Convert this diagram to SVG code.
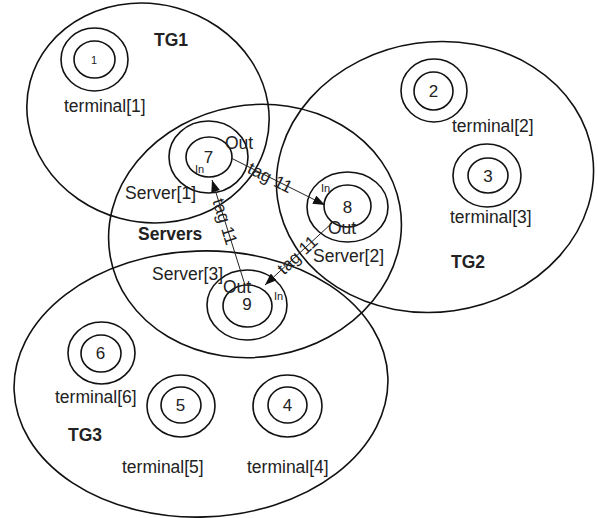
<svg xmlns="http://www.w3.org/2000/svg" width="598" height="518" viewBox="0 0 598 518">
<defs>
<style>
.g{fill:none;stroke:#111;stroke-width:1.6}
.n{fill:none;stroke:#111;stroke-width:1.6}
.t{font-family:"Liberation Sans",Arial,sans-serif;font-size:17.5px;fill:#222}
.b{font-family:"Liberation Sans",Arial,sans-serif;font-size:17.5px;font-weight:bold;fill:#222}
.d{font-family:"Liberation Sans",Arial,sans-serif;font-size:17px;fill:#222;text-anchor:middle}
.s{font-family:"Liberation Sans",Arial,sans-serif;font-size:11px;fill:#222}
.c{fill:none;stroke:#222;stroke-width:1}
</style>
<marker id="ah" markerUnits="userSpaceOnUse" markerWidth="13" markerHeight="9" refX="12" refY="4.5" orient="auto"><path d="M0,0 L12,4.5 L0,9 z" fill="#111"/></marker>
</defs>
<rect width="598" height="518" fill="#fff"/>
<g id="groups">
<g id="TG1"><ellipse class="g" cx="148" cy="113" rx="122" ry="109" transform="rotate(15 148 113)"/><text class="b" x="154" y="46">TG1</text></g>
<g id="TG2"><ellipse class="g" cx="435" cy="177" rx="159" ry="135" transform="rotate(-8 435 177)"/><text class="b" x="451" y="268">TG2</text></g>
<g id="Servers"><ellipse class="g" cx="255" cy="231" rx="147" ry="126" transform="rotate(-10 255 231)"/><text class="b" x="138" y="240">Servers</text></g>
<g id="TG3"><ellipse class="g" cx="201" cy="384" rx="187" ry="133" transform="rotate(-2 201 384)"/><text class="b" x="68" y="441">TG3</text></g>
</g>
<g id="node1"><ellipse class="n" cx="94.5" cy="59.5" rx="33.5" ry="31.5"/><ellipse class="n" cx="94.5" cy="59.5" rx="20.5" ry="18.5"/><text class="s" x="94" y="63.5" text-anchor="middle">1</text><text class="t" x="64" y="112">terminal[1]</text></g>
<g id="node2"><ellipse class="n" cx="434" cy="90.5" rx="33" ry="31.5"/><ellipse class="n" cx="433.5" cy="91" rx="19.5" ry="19"/><text class="d" x="433.5" y="97">2</text><text class="t" x="452" y="132">terminal[2]</text></g>
<g id="node3"><ellipse class="n" cx="487" cy="175.5" rx="34" ry="31.5"/><ellipse class="n" cx="488" cy="175.5" rx="20" ry="17.5"/><text class="d" x="488" y="181.5">3</text><text class="t" x="450" y="223">terminal[3]</text></g>
<g id="node4"><ellipse class="n" cx="287.5" cy="406" rx="34.5" ry="31"/><ellipse class="n" cx="287.5" cy="405" rx="19.5" ry="18"/><text class="d" x="287.5" y="411">4</text><text class="t" x="247" y="473">terminal[4]</text></g>
<g id="node5"><ellipse class="n" cx="181" cy="406" rx="34" ry="31"/><ellipse class="n" cx="181" cy="405" rx="20" ry="18"/><text class="d" x="180.5" y="411">5</text><text class="t" x="122" y="473">terminal[5]</text></g>
<g id="node6"><ellipse class="n" cx="101.5" cy="353" rx="33.5" ry="31"/><ellipse class="n" cx="101" cy="353.5" rx="20" ry="18.5"/><text class="d" x="100.5" y="359">6</text><text class="t" x="55" y="403">terminal[6]</text></g>
<g id="node7"><ellipse class="n" cx="208.5" cy="157" rx="39.5" ry="36"/><ellipse class="n" cx="209" cy="157" rx="23" ry="20"/><text class="d" x="208.5" y="163">7</text><text class="t" x="225" y="149">Out</text><text class="s" x="195" y="173">In</text><text class="t" x="125" y="199">Server[1]</text></g>
<g id="node8"><ellipse class="n" cx="347.5" cy="207" rx="40.5" ry="35"/><ellipse class="n" cx="347.5" cy="206" rx="23.5" ry="21"/><text class="d" x="347.5" y="213">8</text><text class="s" x="321" y="192">In</text><text class="t" x="328" y="234">Out</text><text class="t" x="313" y="262">Server[2]</text></g>
<g id="node9"><ellipse class="n" cx="247" cy="305" rx="40" ry="35"/><ellipse class="n" cx="247.5" cy="306" rx="24.5" ry="21"/><text class="d" x="247" y="310">9</text><text class="t" x="223" y="293">Out</text><text class="s" x="274" y="300">In</text><text class="t" x="152" y="280">Server[3]</text></g>
<g id="connectors">
<line class="c" x1="231" y1="158" x2="325" y2="205" marker-end="url(#ah)"/>
<text class="t" transform="translate(249 167) rotate(26.6)" x="0" y="6">tag 11</text>
<line class="c" x1="245" y1="285" x2="212" y2="180" marker-end="url(#ah)"/>
<text class="t" transform="translate(218 199) rotate(72.6)" x="0" y="6">tag 11</text>
<line class="c" x1="332" y1="223" x2="265" y2="285" marker-end="url(#ah)"/>
<text class="t" transform="translate(280 271) rotate(-42.8)" x="0" y="6">tag 11</text>
</g>
</svg>
